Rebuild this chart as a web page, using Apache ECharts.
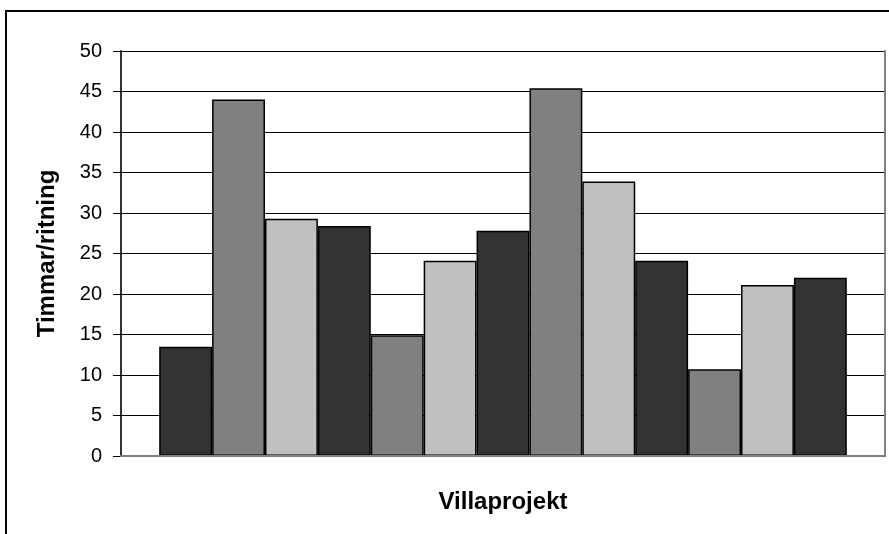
<!DOCTYPE html>
<html>
<head>
<meta charset="utf-8">
<style>
  html, body { margin: 0; padding: 0; background: #fff; }
  #chart { width: 889px; height: 534px; }
</style>
<script src="https://cdn.jsdelivr.net/npm/echarts@6/dist/echarts.min.js"></script>
</head>
<body>
<div id="chart"></div>
<script>
// Hours per drawing for each villa project, in project order
const categories = [''];
const hoursPerDrawing = [13.5, 44.0, 29.3, 28.4, 14.9, 24.1, 27.8, 45.4, 33.9, 24.1, 10.7, 21.1, 22.0];
const barColors = ['#333333', '#808080', '#C0C0C0'];
const yMin = 0;
const yMax = 50;
const yStep = 5;

const FONT = '"Liberation Sans", Arial, sans-serif';

const chart = echarts.init(document.getElementById('chart'), null, { renderer: 'canvas' });

const series = hoursPerDrawing.map((v, i) => ({
  type: 'bar',
  xAxisIndex: 0,
  yAxisIndex: 0,
  data: [v],
  barGap: '0%',
  barCategoryGap: '10%',
  itemStyle: {
    color: barColors[i % barColors.length],
    borderColor: '#000000',
    borderWidth: 1.5
  },
  emphasis: { disabled: true },
  z: 3
}));

chart.setOption({
  animation: false,
  backgroundColor: '#ffffff',
  grid: { left: 121, right: 4, top: 51, bottom: 78, containLabel: false },
  graphic: [{
    type: 'rect',
    shape: { x: 6, y: 11, width: 900, height: 540 },
    style: { fill: 'none', stroke: '#000000', lineWidth: 2 },
    silent: true,
    z: 100
  }],
  xAxis: [{
    type: 'category',
    data: categories,
    position: 'bottom',
    name: 'Villaprojekt',
    nameLocation: 'middle',
    nameGap: 34,
    nameTextStyle: { fontFamily: FONT, fontSize: 24, fontWeight: 'bold', color: '#000' },
    axisLine: { show: true, onZero: false, lineStyle: { color: '#808080', width: 2 } },
    axisTick: { show: false },
    axisLabel: { show: false },
    splitLine: { show: false },
    z: 4
  }, {
    type: 'category',
    data: categories,
    position: 'top',
    axisLine: { show: true, lineStyle: { color: '#808080', width: 2 } },
    axisTick: { show: false },
    axisLabel: { show: false },
    splitLine: { show: false },
    z: 5
  }],
  yAxis: [{
    type: 'value',
    min: yMin,
    max: yMax,
    interval: yStep,
    position: 'left',
    name: 'Timmar/ritning',
    nameLocation: 'middle',
    nameGap: 62,
    nameTextStyle: { fontFamily: FONT, fontSize: 24, fontWeight: 'bold', color: '#000' },
    axisLine: { show: true, lineStyle: { color: '#333333', width: 2 } },
    axisTick: { show: true, length: 8, lineStyle: { color: '#000', width: 1 } },
    axisLabel: { margin: 19, fontFamily: FONT, fontSize: 20, color: '#000' },
    splitLine: { show: true, lineStyle: { color: '#000000', width: 1 } },
    z: 2
  }, {
    type: 'value',
    min: yMin,
    max: yMax,
    interval: yStep,
    position: 'right',
    axisLine: { show: true, lineStyle: { color: '#808080', width: 2 } },
    axisTick: { show: false },
    axisLabel: { show: false },
    splitLine: { show: false },
    z: 5
  }],
  series: series
});
</script>
</body>
</html>
